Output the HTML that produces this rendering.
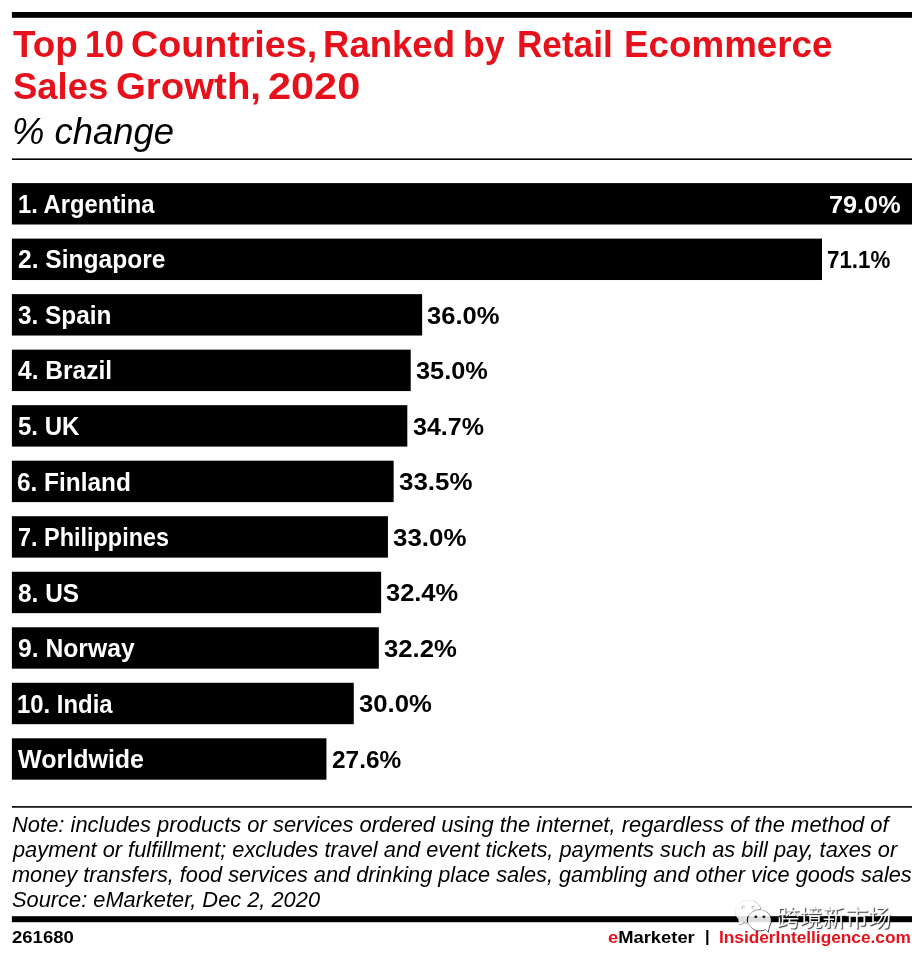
<!DOCTYPE html>
<html lang="en"><head><meta charset="utf-8"><title>Top 10 Countries, Ranked by Retail Ecommerce Sales Growth, 2020</title>
<style>
html,body{margin:0;padding:0;background:#fff}
body{width:922px;height:958px;position:relative;overflow:hidden;font-family:"Liberation Sans","Noto Sans CJK SC",sans-serif;color:#000}
.t,.bg,.wm{position:absolute;white-space:nowrap}
.bg{left:0;top:0}
.t{transform-origin:0 0}
.title{color:#e6111b;font-weight:bold}
.sub,.note{font-style:italic}
.lab{color:#fff;font-weight:bold}
.val{font-weight:bold}
.val.in{color:#fff}
.foot{font-weight:bold}
.h{margin:0;font-size:inherit;font-weight:inherit}
.red{color:#e6111b}
</style></head><body>
<svg class="bg" width="922" height="958" viewBox="0 0 922 958" fill="#000">
<rect x="11.9" y="12" width="900.1" height="5.8"/>
<rect x="11.9" y="158.4" width="900.1" height="1.6"/>
<rect x="11.9" y="183.10" width="900.10" height="41.4"/>
<rect x="11.9" y="238.62" width="810.10" height="41.4"/>
<rect x="11.9" y="294.14" width="410.23" height="41.4"/>
<rect x="11.9" y="349.66" width="398.83" height="41.4"/>
<rect x="11.9" y="405.18" width="395.42" height="41.4"/>
<rect x="11.9" y="460.70" width="381.75" height="41.4"/>
<rect x="11.9" y="516.22" width="376.05" height="41.4"/>
<rect x="11.9" y="571.74" width="369.21" height="41.4"/>
<rect x="11.9" y="627.26" width="366.94" height="41.4"/>
<rect x="11.9" y="682.78" width="341.87" height="41.4"/>
<rect x="11.9" y="738.30" width="314.53" height="41.4"/>
<rect x="11.9" y="806.1" width="900.1" height="1.6"/>
<rect x="11.9" y="916.2" width="900.1" height="6"/>
</svg>
<h1 class="h"><span id="ta0" class="t title" style="left:12.71px;top:22.41px;font-size:37.6px;line-height:45.12px;transform:scaleX(0.9818)">Top</span> <span id="ta1" class="t title" style="left:85.08px;top:22.41px;font-size:37.6px;line-height:45.12px;transform:scaleX(0.9304)">10</span> <span id="ta2" class="t title" style="left:131.07px;top:22.41px;font-size:37.6px;line-height:45.12px;transform:scaleX(1.0016)">Countries,</span> <span id="ta3" class="t title" style="left:323.18px;top:22.41px;font-size:37.6px;line-height:45.12px;transform:scaleX(0.9725)">Ranked</span> <span id="ta4" class="t title" style="left:463.21px;top:22.41px;font-size:37.6px;line-height:45.12px;transform:scaleX(0.9484)">by</span> <span id="ta5" class="t title" style="left:516.61px;top:22.41px;font-size:37.6px;line-height:45.12px;transform:scaleX(0.9350)">Retail</span> <span id="ta6" class="t title" style="left:623.75px;top:22.41px;font-size:37.6px;line-height:45.12px;transform:scaleX(0.9786)">Ecommerce</span> <span id="tb0" class="t title" style="left:13.03px;top:64.41px;font-size:37.6px;line-height:45.12px;transform:scaleX(0.9687)">Sales</span> <span id="tb1" class="t title" style="left:116.02px;top:64.41px;font-size:37.6px;line-height:45.12px;transform:scaleX(1.0215)">Growth,</span> <span id="tb2" class="t title" style="left:267.57px;top:64.41px;font-size:37.6px;line-height:45.12px;transform:scaleX(1.1028)">2020</span></h1>
<div id="sub" class="t sub" style="left:12.40px;top:109.98px;font-size:37px;line-height:44.4px;transform:scaleX(0.9839)">% change</div>
<div id="l0" class="t lab" style="left:17.54px;top:189.34px;font-size:25px;line-height:30.0px;transform:scaleX(0.9505)">1. Argentina</div>
<div id="v0" class="t val in" style="left:829.23px;top:191.19px;font-size:24.1px;line-height:28.92px;transform:scaleX(1.0485)">79.0%</div>
<div id="l1" class="t lab" style="left:17.55px;top:244.34px;font-size:25px;line-height:30.0px;transform:scaleX(0.9826)">2. Singapore</div>
<div id="v1" class="t val" style="left:827.02px;top:246.19px;font-size:24.1px;line-height:28.92px;transform:scaleX(0.9272)">71.1%</div>
<div id="l2" class="t lab" style="left:18.35px;top:300.34px;font-size:25px;line-height:30.0px;transform:scaleX(0.9752)">3. Spain</div>
<div id="v2" class="t val" style="left:426.95px;top:302.19px;font-size:24.1px;line-height:28.92px;transform:scaleX(1.0610)">36.0%</div>
<div id="l3" class="t lab" style="left:18.46px;top:355.34px;font-size:25px;line-height:30.0px;transform:scaleX(0.9816)">4. Brazil</div>
<div id="v3" class="t val" style="left:416.11px;top:357.19px;font-size:24.1px;line-height:28.92px;transform:scaleX(1.0521)">35.0%</div>
<div id="l4" class="t lab" style="left:17.58px;top:411.34px;font-size:25px;line-height:30.0px;transform:scaleX(0.9618)">5. UK</div>
<div id="v4" class="t val" style="left:413.08px;top:413.19px;font-size:24.1px;line-height:28.92px;transform:scaleX(1.0394)">34.7%</div>
<div id="l5" class="t lab" style="left:17.07px;top:467.34px;font-size:25px;line-height:30.0px;transform:scaleX(0.9757)">6. Finland</div>
<div id="v5" class="t val" style="left:398.65px;top:468.19px;font-size:24.1px;line-height:28.92px;transform:scaleX(1.0752)">33.5%</div>
<div id="l6" class="t lab" style="left:18.08px;top:522.34px;font-size:25px;line-height:30.0px;transform:scaleX(0.9372)">7. Philippines</div>
<div id="v6" class="t val" style="left:393.09px;top:524.19px;font-size:24.1px;line-height:28.92px;transform:scaleX(1.0752)">33.0%</div>
<div id="l7" class="t lab" style="left:17.56px;top:578.34px;font-size:25px;line-height:30.0px;transform:scaleX(0.9763)">8. US</div>
<div id="v7" class="t val" style="left:385.95px;top:579.19px;font-size:24.1px;line-height:28.92px;transform:scaleX(1.0558)">32.4%</div>
<div id="l8" class="t lab" style="left:17.55px;top:633.34px;font-size:25px;line-height:30.0px;transform:scaleX(0.9875)">9. Norway</div>
<div id="v8" class="t val" style="left:384.10px;top:635.19px;font-size:24.1px;line-height:28.92px;transform:scaleX(1.0670)">32.2%</div>
<div id="l9" class="t lab" style="left:17.00px;top:689.34px;font-size:25px;line-height:30.0px;transform:scaleX(0.9552)">10. India</div>
<div id="v9" class="t val" style="left:358.94px;top:690.19px;font-size:24.1px;line-height:28.92px;transform:scaleX(1.0677)">30.0%</div>
<div id="l10" class="t lab" style="left:18.09px;top:744.34px;font-size:25px;line-height:30.0px;transform:scaleX(1.0000)">Worldwide</div>
<div id="v10" class="t val" style="left:331.77px;top:746.19px;font-size:24.1px;line-height:28.92px;transform:scaleX(1.0125)">27.6%</div>
<div id="n0" class="t note" style="left:12.11px;top:811.42px;font-size:22.8px;line-height:27.36px;transform:scaleX(0.9622)">Note: includes products or services ordered using the internet, regardless of the method of</div>
<div id="n1" class="t note" style="left:12.50px;top:836.42px;font-size:22.8px;line-height:27.36px;transform:scaleX(0.9563)">payment or fulfillment; excludes travel and event tickets, payments such as bill pay, taxes or</div>
<div id="n2" class="t note" style="left:12.16px;top:861.42px;font-size:22.8px;line-height:27.36px;transform:scaleX(0.9530)">money transfers, food services and drinking place sales, gambling and other vice goods sales</div>
<div id="n3" class="t note" style="left:12.11px;top:886.42px;font-size:22.8px;line-height:27.36px;transform:scaleX(0.9570)">Source: eMarketer, Dec 2, 2020</div>
<div id="f1" class="t foot" style="left:11.60px;top:929.23px;font-size:15.6px;line-height:18.72px;transform:scaleX(1.1880)">261680</div>
<div id="f2" class="t foot" style="left:608.23px;top:929.23px;font-size:15.6px;line-height:18.72px;transform:scaleX(1.1770)"><span class="red">e</span>Marketer</div>
<div id="f3" class="t foot" style="left:705.05px;top:925.63px;font-size:17.3px;line-height:20.76px;transform:scaleX(0.9519)">|</div>
<div id="f4" class="t foot red" style="left:718.92px;top:929.23px;font-size:15.6px;line-height:18.72px;transform:scaleX(1.1068)">InsiderIntelligence.com</div>
<svg class="wm" style="left:730px;top:894px" width="46" height="42" viewBox="730 894 46 42">
<path fill-rule="evenodd" d="M760.4 908.8A12.9 11.4 0 1 0 738.2 918.8L739.1 924.6L743.8 922.0A12.9 11.4 0 0 0 747.2 922.6A12.5 11.3 0 0 1 760.4 908.8ZM744.7 907.2a1.7 1.7 0 1 0 -3.4 0a1.7 1.7 0 1 0 3.4 0ZM754.6 907.2a1.7 1.7 0 1 0 -3.4 0a1.7 1.7 0 1 0 3.4 0Z" transform="translate(.6 .6)" fill="none" stroke="#000" stroke-opacity=".4" stroke-width=".9"/>
<path fill-rule="evenodd" d="M769.0 925.7L767.8 931.7L765.1 929.0A11.5 10.3 0 1 1 769.0 925.7ZM757.3 916.6a1.5 1.5 0 1 0 -3 0a1.5 1.5 0 1 0 3 0ZM765.4 916.6a1.5 1.5 0 1 0 -3 0a1.5 1.5 0 1 0 3 0Z" transform="translate(.5 .5)" fill="none" stroke="#000" stroke-opacity=".75" stroke-width="1"/>
<path fill-rule="evenodd" d="M760.4 908.8A12.9 11.4 0 1 0 738.2 918.8L739.1 924.6L743.8 922.0A12.9 11.4 0 0 0 747.2 922.6A12.5 11.3 0 0 1 760.4 908.8ZM744.7 907.2a1.7 1.7 0 1 0 -3.4 0a1.7 1.7 0 1 0 3.4 0ZM754.6 907.2a1.7 1.7 0 1 0 -3.4 0a1.7 1.7 0 1 0 3.4 0Z" fill="#fff" fill-opacity=".87"/>
<path fill-rule="evenodd" d="M769.0 925.7L767.8 931.7L765.1 929.0A11.5 10.3 0 1 1 769.0 925.7ZM757.3 916.6a1.5 1.5 0 1 0 -3 0a1.5 1.5 0 1 0 3 0ZM765.4 916.6a1.5 1.5 0 1 0 -3 0a1.5 1.5 0 1 0 3 0Z" fill="#fff" fill-opacity=".87"/>
</svg>
<div class="wm" id="wmt" style="left:776.8px;top:902.3px;font-size:22.9px;line-height:32px;font-weight:400;color:rgba(255,255,255,.92);text-shadow:1px 1px 1px rgba(0,0,0,.8);font-family:'Liberation Sans','Noto Sans CJK SC',sans-serif">跨境新市场</div>

</body></html>
